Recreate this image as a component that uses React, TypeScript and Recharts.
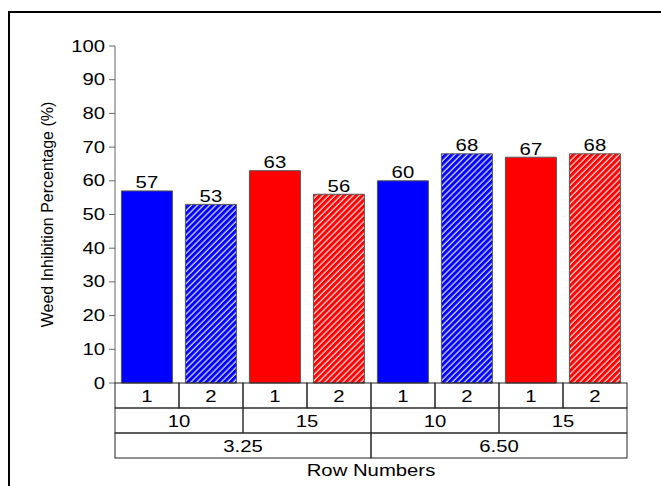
import { BarChart, Bar, XAxis, YAxis, Cell, LabelList, Label } from "recharts";

// plot values
const rowNumbers = ["1", "2", "1", "2", "1", "2", "1", "2"];
const rowSpacing = ["10", "10", "15", "15", "10", "10", "15", "15"];
const seedRates = ["3.25", "3.25", "3.25", "3.25", "6.50", "6.50", "6.50", "6.50"];
const inhibition = [57, 53, 63, 56, 60, 68, 67, 68];
const barFills = [
  "#0000ff",
  "url(#hatchBlue)",
  "#ff0000",
  "url(#hatchRed)",
  "#0000ff",
  "url(#hatchBlue)",
  "#ff0000",
  "url(#hatchRed)",
];
const yTicks = [0, 10, 20, 30, 40, 50, 60, 70, 80, 90, 100];

const data = inhibition.map((value, i) => ({
  key: `c${i}`,
  value,
}));

const W = 661;
const H = 486;
const PLOT_LEFT = 115;
const PLOT_RIGHT = 627;
const PLOT_TOP = 46;
const PLOT_BOTTOM = 383;
const BAND = (PLOT_RIGHT - PLOT_LEFT) / data.length;
const ROW_H = 25;
const SX = 1.27; // the source image is stretched sideways

function WideText({ x, y, anchor = "middle", size = 16, children }: any) {
  return (
    <text
      transform={`translate(${x},${y}) scale(${SX},1)`}
      textAnchor={anchor}
      fontSize={size}
      fill="#000"
    >
      {children}
    </text>
  );
}

function YTick({ x, y, payload }: any) {
  return (
    <WideText x={x} y={y + 5.5} anchor="end">
      {payload.value}
    </WideText>
  );
}

function ValueLabel({ x, y, width, value }: any) {
  return (
    <WideText x={x + width / 2} y={y - 2.5}>
      {value}
    </WideText>
  );
}

function TableTick({ x, y, index }: any) {
  const left = x - BAND / 2;
  const top = y;
  return (
    <g>
      <rect x={left} y={top} width={BAND} height={ROW_H} fill="none" stroke="#222" />
      <WideText x={x} y={top + ROW_H / 2 + 6}>
        {rowNumbers[index]}
      </WideText>
      {index % 2 === 0 && (
        <g>
          <rect x={left} y={top + ROW_H} width={BAND * 2} height={ROW_H} fill="none" stroke="#333" />
          <WideText x={left + BAND} y={top + ROW_H * 1.5 + 6}>
            {rowSpacing[index]}
          </WideText>
        </g>
      )}
      {index % 4 === 0 && (
        <g>
          <rect x={left} y={top + ROW_H * 2} width={BAND * 4} height={ROW_H} fill="none" stroke="#222" />
          <WideText x={left + BAND * 2} y={top + ROW_H * 2.5 + 6}>
            {seedRates[index]}
          </WideText>
        </g>
      )}
    </g>
  );
}

function RowTitle({ viewBox }: any) {
  return (
    <WideText x={viewBox.x + viewBox.width / 2} y={viewBox.y + ROW_H * 3 + 17.5} size={16}>
      Row Numbers
    </WideText>
  );
}

export default function App() {
  return (
    <div style={{ position: "absolute", left: 0, top: 0, width: W, height: H, overflow: "hidden", background: "#fff" }}>
      <svg width={0} height={0} style={{ position: "absolute" }}>
        <defs>
          <pattern id="hatchBlue" width={4.3} height={4.3} patternUnits="userSpaceOnUse" patternTransform="rotate(45)">
            <rect width={4.3} height={4.3} fill="#0000ff" />
            <line x1={1} y1={0} x2={1} y2={4.3} stroke="#fff" strokeWidth={1.1} />
          </pattern>
          <pattern id="hatchRed" width={4.3} height={4.3} patternUnits="userSpaceOnUse" patternTransform="rotate(45)">
            <rect width={4.3} height={4.3} fill="#ff0000" />
            <line x1={1} y1={0} x2={1} y2={4.3} stroke="#fff" strokeWidth={1.1} />
          </pattern>
        </defs>
      </svg>
      <div
        style={{
          position: "absolute",
          left: 8,
          top: 11,
          width: 700,
          height: 600,
          borderTop: "2.5px solid #000",
          borderLeft: "2.5px solid #000",
        }}
      />
      <div style={{ position: "absolute", left: 0, top: 0 }}>
        <BarChart
          width={W}
          height={H}
          data={data}
          margin={{ top: PLOT_TOP, right: W - PLOT_RIGHT, bottom: 0, left: 40 }}
          barCategoryGap="10%"
          style={{ fontFamily: "'Liberation Sans', Arial, sans-serif" }}
        >
          <XAxis
            dataKey="key"
            height={H - PLOT_BOTTOM}
            interval={0}
            axisLine={false}
            tickLine={false}
            tickSize={0}
            tickMargin={0}
            tick={<TableTick />}
          >
            <Label content={<RowTitle />} />
          </XAxis>
          <YAxis
            width={PLOT_LEFT - 40}
            domain={[0, 100]}
            ticks={yTicks}
            interval={0}
            stroke="#666"
            tickSize={6}
            tickMargin={4}
            tick={<YTick />}
          >
            <Label
              value="Weed Inhibition Percentage (%)"
              angle={-90}
              position="insideLeft"
              offset={7}
              style={{ textAnchor: "middle", fontSize: 16, fill: "#000" }}
            />
          </YAxis>
          <Bar dataKey="value" stroke="#555" strokeWidth={1} isAnimationActive={false}>
            {data.map((d, i) => (
              <Cell key={d.key} fill={barFills[i]} />
            ))}
            <LabelList dataKey="value" position="top" content={<ValueLabel />} />
          </Bar>
        </BarChart>
      </div>
    </div>
  );
}
